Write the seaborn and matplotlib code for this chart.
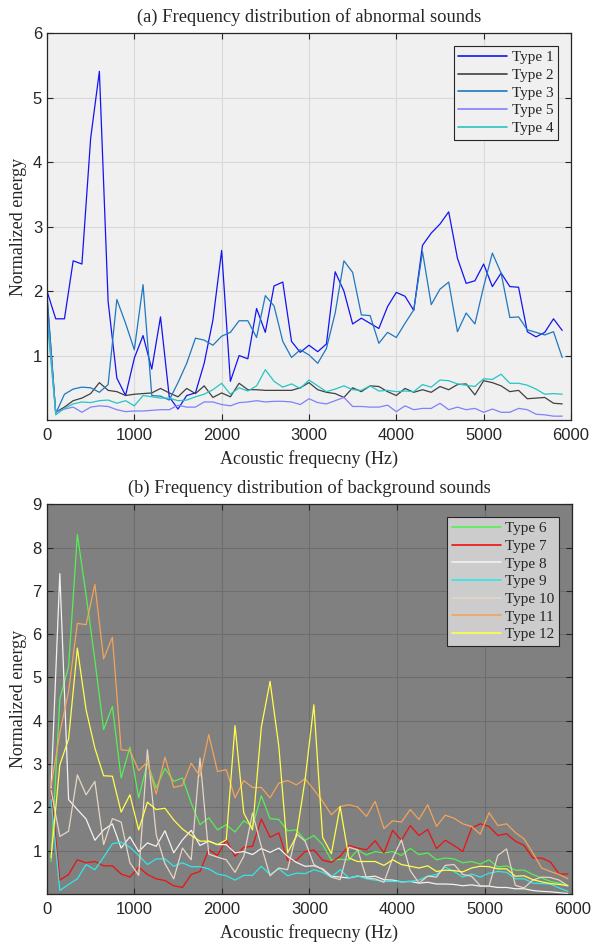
import numpy as np
import pandas as pd
import matplotlib
matplotlib.use("Agg")
import matplotlib.pyplot as plt
import seaborn as sns

# ---- (a) abnormal sounds, 100 Hz bins starting at 0 Hz
freq_a = np.arange(0, 6000, 100)
type1 = [2.0, 1.57, 1.57, 2.47, 2.42, 4.37, 5.41, 1.84, 0.65, 0.38,
         0.96, 1.31, 0.79, 1.6, 0.36, 0.17, 0.38, 0.42, 0.88, 1.55,
         2.63, 0.6, 1.0, 0.95, 1.73, 1.36, 2.08, 2.14, 1.22, 1.05,
         1.16, 1.06, 1.18, 2.30, 2.0, 1.49, 1.58, 1.5, 1.42, 1.76,
         1.98, 1.92, 1.7, 2.71, 2.9, 3.04, 3.23, 2.51, 2.12, 2.16,
         2.42, 2.07, 2.28, 2.07, 2.06, 1.37, 1.29, 1.36, 1.57, 1.39]
type2 = [1.9, 0.12, 0.2, 0.3, 0.34, 0.41, 0.58, 0.46, 0.44, 0.38,
         0.4, 0.41, 0.42, 0.49, 0.42, 0.36, 0.49, 0.41, 0.53, 0.35,
         0.42, 0.36, 0.57, 0.47, 0.47, 0.46, 0.46, 0.46, 0.46, 0.5,
         0.58, 0.47, 0.43, 0.41, 0.35, 0.5, 0.44, 0.53, 0.52, 0.44,
         0.38, 0.49, 0.43, 0.47, 0.43, 0.52, 0.47, 0.55, 0.56, 0.39,
         0.61, 0.58, 0.53, 0.44, 0.46, 0.33, 0.34, 0.35, 0.26, 0.25]
type3 = [1.95, 0.1, 0.4, 0.48, 0.51, 0.5, 0.43, 0.55, 1.87, 1.5,
         1.09, 2.1, 0.38, 0.37, 0.31, 0.58, 0.88, 1.27, 1.24, 1.16,
         1.3, 1.36, 1.54, 1.54, 1.28, 1.93, 1.77, 1.22, 0.97, 1.09,
         1.01, 0.88, 1.11, 1.66, 2.47, 2.29, 1.63, 1.62, 1.19, 1.36,
         1.28, 1.5, 1.71, 2.61, 1.79, 2.03, 2.14, 1.37, 1.66, 1.49,
         2.07, 2.59, 2.28, 1.59, 1.6, 1.4, 1.36, 1.32, 1.37, 0.97]
type5 = [1.7, 0.12, 0.17, 0.2, 0.12, 0.2, 0.22, 0.21, 0.16, 0.13,
         0.14, 0.14, 0.15, 0.16, 0.16, 0.23, 0.2, 0.2, 0.28, 0.28,
         0.24, 0.22, 0.27, 0.28, 0.3, 0.28, 0.29, 0.29, 0.28, 0.24,
         0.33, 0.27, 0.25, 0.3, 0.35, 0.21, 0.21, 0.2, 0.2, 0.23,
         0.13, 0.22, 0.16, 0.18, 0.18, 0.26, 0.16, 0.2, 0.16, 0.18,
         0.12, 0.17, 0.12, 0.12, 0.18, 0.16, 0.09, 0.08, 0.06, 0.06]
type4 = [1.6, 0.08, 0.18, 0.25, 0.28, 0.27, 0.3, 0.31, 0.26, 0.3,
         0.22, 0.38, 0.36, 0.34, 0.34, 0.3, 0.31, 0.36, 0.4, 0.47,
         0.57, 0.4, 0.5, 0.45, 0.53, 0.78, 0.6, 0.51, 0.56, 0.49,
         0.62, 0.53, 0.44, 0.48, 0.53, 0.47, 0.46, 0.53, 0.45, 0.46,
         0.44, 0.45, 0.44, 0.55, 0.51, 0.62, 0.61, 0.56, 0.54, 0.52,
         0.64, 0.63, 0.71, 0.57, 0.57, 0.54, 0.48, 0.4, 0.41, 0.4]

# ---- (b) background sounds, 100 Hz bins centred at 50 Hz
freq_b = np.arange(50, 6000, 100)
type6 = [0.75, 4.5, 5.25, 8.3, 6.9, 5.4, 3.8, 4.33, 2.68, 3.39,
         2.22, 3.02, 2.45, 2.9, 2.6, 2.68, 2.1, 1.6, 1.76, 1.48,
         1.6, 1.43, 1.69, 1.56, 2.27, 1.74, 1.72, 1.46, 1.48, 1.24,
         1.35, 1.14, 0.78, 0.8, 0.79, 1.02, 0.9, 0.98, 0.95, 0.98,
         0.89, 1.05, 0.91, 0.95, 0.79, 0.83, 0.81, 0.72, 0.75, 0.69,
         0.79, 0.62, 0.65, 0.55, 0.55, 0.45, 0.37, 0.29, 0.25, 0.19]
type7 = [2.41, 0.32, 0.45, 0.79, 0.72, 0.75, 0.65, 0.65, 0.46, 0.39,
         0.62, 0.45, 0.35, 0.31, 0.19, 0.15, 0.45, 0.52, 1.02, 0.89,
         1.25, 0.87, 1.08, 1.1, 1.73, 1.31, 1.41, 0.78, 0.78, 0.98,
         1.02, 0.78, 0.73, 0.87, 1.12, 1.06, 1.02, 1.23, 0.95, 1.47,
         1.24, 1.58, 1.35, 1.49, 1.05, 1.24, 1.12, 0.98, 1.52, 1.62,
         1.56, 1.35, 1.39, 1.22, 1.12, 0.83, 0.83, 0.74, 0.46, 0.46]
type8 = [2.45, 7.4, 2.18, 1.95, 1.73, 1.24, 1.48, 1.62, 1.06, 1.32,
         0.98, 1.18, 1.1, 1.46, 0.95, 1.25, 1.47, 1.12, 1.22, 1.14,
         1.14, 0.95, 0.98, 0.91, 1.05, 0.96, 1.06, 0.87, 0.73, 0.64,
         0.65, 0.58, 0.41, 0.39, 0.37, 0.41, 0.39, 0.41, 0.33, 0.32,
         0.28, 0.29, 0.25, 0.27, 0.23, 0.23, 0.22, 0.19, 0.21, 0.18,
         0.18, 0.15, 0.15, 0.12, 0.12, 0.08, 0.06, 0.05, 0.03, 0.01]
type9 = [2.18, 0.08, 0.22, 0.35, 0.68, 0.56, 0.85, 1.16, 1.2, 1.08,
         0.89, 0.68, 0.81, 0.81, 0.64, 0.72, 0.63, 0.63, 0.58, 0.46,
         0.42, 0.32, 0.43, 0.43, 0.64, 0.45, 0.58, 0.42, 0.48, 0.47,
         0.56, 0.5, 0.39, 0.56, 0.37, 0.42, 0.35, 0.32, 0.29, 0.29,
         0.28, 0.29, 0.32, 0.41, 0.45, 0.62, 0.52, 0.39, 0.46, 0.39,
         0.48, 0.52, 0.5, 0.35, 0.35, 0.25, 0.24, 0.23, 0.14, 0.06]
type10 = [2.4, 1.33, 1.45, 2.75, 2.29, 2.6, 1.14, 1.74, 1.66, 0.72,
          0.43, 3.33, 1.37, 0.7, 0.35, 1.06, 0.79, 3.14, 0.92, 0.85,
          0.79, 0.5, 0.87, 1.87, 1.1, 0.42, 0.6, 0.56, 1.39, 1.22,
          0.68, 0.56, 0.39, 0.33, 1.08, 1.02, 0.37, 0.35, 0.27, 0.83,
          1.25, 0.54, 0.25, 0.41, 0.39, 0.66, 0.68, 0.45, 0.41, 0.19,
          0.18, 0.89, 1.04, 0.2, 0.14, 0.32, 0.39, 0.38, 0.32, 0.19]
type11 = [2.48, 3.72, 4.68, 6.25, 6.22, 7.15, 5.43, 5.93, 3.33, 3.31,
          2.85, 3.05, 2.31, 3.16, 2.46, 2.51, 3.02, 2.72, 3.68, 2.83,
          2.87, 2.22, 2.62, 2.46, 2.46, 2.22, 2.56, 2.62, 2.52, 2.66,
          2.41, 2.14, 1.83, 2.02, 2.06, 2.01, 1.79, 2.14, 1.51, 1.69,
          1.66, 1.95, 1.72, 2.06, 1.56, 1.82, 1.75, 1.62, 1.56, 1.38,
          1.88, 1.58, 1.62, 1.42, 1.27, 0.95, 0.6, 0.52, 0.45, 0.35]
type12 = [0.84, 2.98, 3.58, 5.68, 4.25, 3.37, 2.73, 2.72, 1.89, 2.29,
          1.48, 2.12, 1.95, 1.98, 1.71, 1.5, 1.35, 1.22, 1.22, 1.14,
          1.25, 3.89, 1.87, 1.48, 3.85, 4.91, 3.41, 0.95, 1.33, 2.64,
          4.37, 1.31, 0.93, 2.02, 0.83, 0.75, 0.75, 0.75, 0.66, 0.79,
          0.68, 0.64, 0.6, 0.65, 0.52, 0.55, 0.54, 0.51, 0.6, 0.64,
          0.63, 0.58, 0.58, 0.41, 0.42, 0.33, 0.28, 0.24, 0.22, 0.19]

labels_a = ["Type 1", "Type 2", "Type 3", "Type 5", "Type 4"]
colors_a = ["#1414F0", "#404040", "#1F78C0", "#8080FF", "#26C4C4"]
labels_b = ["Type 6", "Type 7", "Type 8", "Type 9", "Type 10", "Type 11", "Type 12"]
colors_b = ["#55F055", "#F01010", "#F2F2F2", "#30E8E8", "#E6D6C4", "#F2A45A", "#FFFF4A"]

df_a = pd.concat([pd.DataFrame({"freq": freq_a, "energy": v, "type": n})
                  for n, v in zip(labels_a, [type1, type2, type3, type5, type4])])
df_b = pd.concat([pd.DataFrame({"freq": freq_b, "energy": v, "type": n})
                  for n, v in zip(labels_b, [type6, type7, type8, type9, type10, type11, type12])])

sns.set_style("ticks")
plt.rcParams["font.family"] = ["Liberation Sans", "DejaVu Sans"]
serif = ["Liberation Serif", "DejaVu Serif"]

fig = plt.figure(figsize=(5.91, 9.43), dpi=100)
fig.patch.set_facecolor("white")


def style_axes(ax, bg, gridc, ymax, title, legend_face):
    ax.set_facecolor(bg)
    ax.set_xlim(0, 6000)
    ax.set_ylim(0, ymax)
    ax.set_xticks(range(0, 6001, 1000))
    ax.set_yticks(range(1, ymax + 1))
    ax.grid(True, color=gridc, linewidth=0.8)
    ax.set_axisbelow(True)
    ax.tick_params(direction="in", top=True, right=True, length=4,
                   labelsize=12, colors="#262626", width=0.8)
    ax.tick_params(axis="x", pad=6)
    ax.tick_params(axis="y", pad=3.5)
    for s in ax.spines.values():
        s.set_color("#262626")
        s.set_linewidth(0.9)
    ax.set_title(title, family=serif, fontsize=13.3, pad=8)
    ax.set_xlabel("Acoustic frequecny (Hz)", family=serif, fontsize=13, labelpad=5)
    ax.set_ylabel("Normalized energy", family=serif, fontsize=13, labelpad=4)
    handles, labs = ax.get_legend_handles_labels()
    for h in handles:
        h.set_linewidth(1.2)
    leg = ax.legend(handles, labs, loc="upper right", bbox_to_anchor=(0.975, 0.967),
                    borderaxespad=0, fancybox=False, framealpha=1,
                    facecolor=legend_face, edgecolor="#262626",
                    prop={"family": serif, "size": 11}, handlelength=3.2,
                    handletextpad=0.3, labelspacing=0.26, borderpad=0.3)
    leg.get_frame().set_linewidth(0.8)


ax1 = fig.add_axes([0.0795, 0.5546, 0.8866, 0.4101])
sns.lineplot(data=df_a, x="freq", y="energy", hue="type", hue_order=labels_a,
             palette=colors_a, linewidth=0.9, ax=ax1)
style_axes(ax1, "#F0F0F0", "#D9D9D9", 6,
           "(a) Frequency distribution of abnormal sounds", "#F0F0F0")

ax2 = fig.add_axes([0.079, 0.052, 0.8893, 0.4132])
sns.lineplot(data=df_b, x="freq", y="energy", hue="type", hue_order=labels_b,
             palette=colors_b, linewidth=0.9, ax=ax2)
style_axes(ax2, "#808080", "#6E6E6E", 9,
           "(b) Frequency distribution of background sounds", "#CCCCCC")

fig.savefig("out.png", dpi=100)
